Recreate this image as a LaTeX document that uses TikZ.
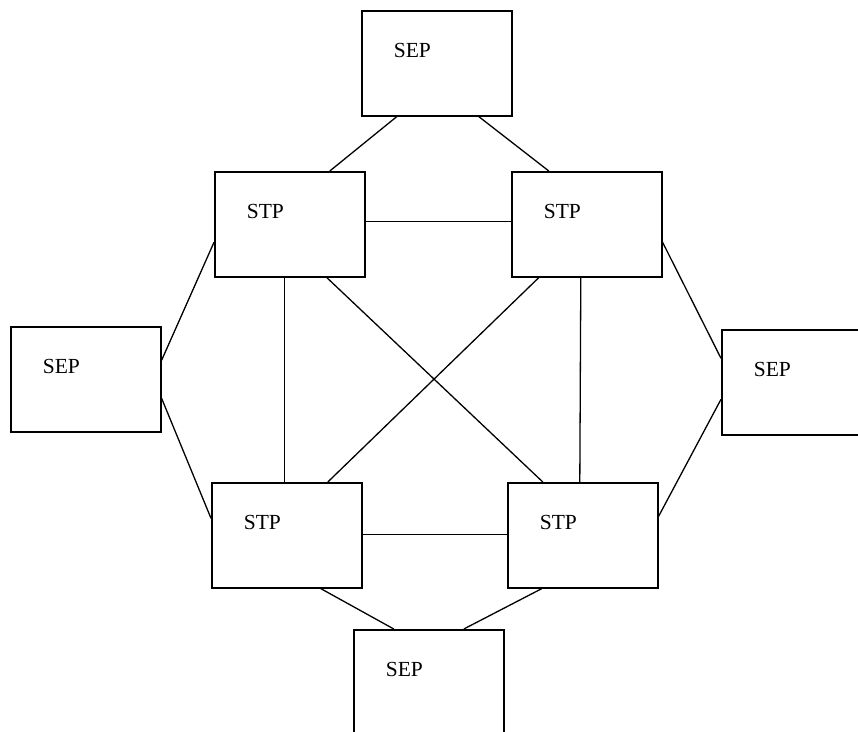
\documentclass[tikz,border=0pt]{standalone}
\usepackage{fontspec}
\setmainfont{Liberation Serif}
\usepackage{tikz}

\begin{document}
\begin{tikzpicture}[x=1pt, y=-1pt,
  box/.style={rectangle, draw, line width=1.6pt, anchor=north west, minimum width=150pt, minimum height=105pt,
    inner xsep=32pt, inner ysep=32pt, text width=86pt, align=left,
    text height=14.2pt, text depth=26.8pt, font=\fontsize{21.5}{24}\selectfont},
  link/.style={draw, line width=1.3pt}]
  \useasboundingbox (0,0) rectangle (858,731);
  \clip (0,0) rectangle (858,731);
  \node[box] (sepT)  at (361,10)  {SEP};
  \node[box] (stpTL) at (214,171) {STP};
  \node[box] (stpTR) at (511,171) {STP};
  \node[box] (sepL)  at (10,326)  {SEP};
  \node[box] (sepR)  at (721,329) {SEP};
  \node[box] (stpBL) at (211,482) {STP};
  \node[box] (stpBR) at (507,482) {STP};
  \node[box] (sepB)  at (353,629) {SEP};

  \path[link] ([xshift=-40pt]sepT.south) -- ([xshift=40pt]stpTL.north);
  \path[link] ([xshift=42pt]sepT.south) -- ([xshift=-38pt]stpTR.north);
  \path[link] ([yshift=3pt]stpTL.east) -- ([yshift=3pt]stpTR.west);
  \path[link] ([xshift=-5pt]stpTL.south) -- ([xshift=-2pt]stpBL.north);
  \path[link] ([xshift=37pt]stpTL.south) -- ([xshift=-40pt]stpBR.north);
  \path[link] ([xshift=-48pt]stpTR.south) -- ([xshift=41pt]stpBL.north);
  \path[link] ([xshift=-6pt]stpTR.south) -- ([xshift=-3pt]stpBR.north);
  \path[link] ([yshift=1pt]stpBL.east) -- ([yshift=1pt]stpBR.west);
  \path[link] ([yshift=19pt]sepL.east) -- ([yshift=-18pt]stpTL.west);
  \path[link] ([yshift=-19pt]sepL.east) -- ([yshift=17pt]stpBL.west);
  \path[link] ([yshift=-18pt]stpTR.east) -- ([yshift=24pt]sepR.west);
  \path[link] ([yshift=19pt]stpBR.east) -- ([yshift=-17pt]sepR.west);
  \path[link] ([xshift=34pt]stpBL.south) -- ([xshift=-35pt]sepB.north);
  \path[link] ([xshift=-41pt]stpBR.south) -- ([xshift=35pt]sepB.north);
\end{tikzpicture}
\end{document}
